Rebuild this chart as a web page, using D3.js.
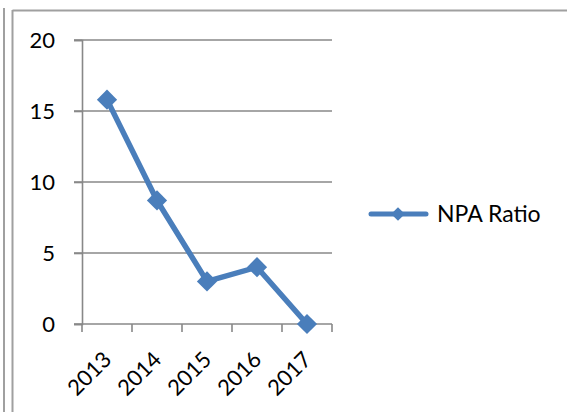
<!DOCTYPE html>
<html>
<head>
<meta charset="utf-8">
<script src="https://cdn.jsdelivr.net/npm/d3@7"></script>
<style>
  html, body { margin: 0; padding: 0; background: #fff; }
  svg { display: block; }
  text { font-family: Lato, "Open Sans", sans-serif; fill: #000; }
</style>
</head>
<body>
<svg id="chart" width="567" height="412"></svg>
<script>
// NPA ratio by year
const years = ["2013", "2014", "2015", "2016", "2017"];
const npaRatio = [15.8, 8.7, 3.0, 4.0, 0];
const yTicks = [0, 5, 10, 15, 20];
const seriesName = "NPA Ratio";

const svg = d3.select("#chart");
const W = 567, H = 412;
const gridColor = "#888888";
const lineColor = "#4A7EBB";

// frame lines around the chart object
const frame = svg.append("g").attr("fill", "none").attr("stroke", "#a0a0a0").attr("stroke-width", 2);
frame.append("line").attr("x1", 4).attr("x2", 4).attr("y1", 8).attr("y2", H);
frame.append("line").attr("x1", 12.5).attr("x2", 12.5).attr("y1", 10).attr("y2", H);
frame.append("line").attr("x1", 12.5).attr("x2", W).attr("y1", 10.5).attr("y2", 10.5);

// plot area
const plot = { left: 82, right: 332, top: 40, bottom: 324 };

const x = d3.scaleBand().domain(years).range([plot.left, plot.right]).padding(0);
const y = d3.scaleLinear().domain([0, 20]).range([plot.bottom, plot.top]);

// horizontal gridlines
svg.append("g")
  .selectAll("line")
  .data(yTicks.filter(d => d > 0))
  .join("line")
  .attr("x1", plot.left - 8).attr("x2", plot.right)
  .attr("y1", d => y(d)).attr("y2", d => y(d))
  .attr("stroke", gridColor).attr("stroke-width", 1.6);

// y axis
const yAxis = svg.append("g")
  .attr("transform", `translate(${plot.left},0)`)
  .call(d3.axisLeft(y).tickValues(yTicks).tickSize(8).tickPadding(19).tickFormat(d3.format("d")));
yAxis.select(".domain").attr("stroke", gridColor).attr("stroke-width", 1.6);
yAxis.selectAll(".tick line").attr("stroke", gridColor).attr("stroke-width", 1.6);
yAxis.selectAll(".tick text").style("font-size", "22px").attr("fill", "#000").attr("dy", "0.36em");

// x axis with ticks between categories
const xAxisG = svg.append("g").attr("transform", `translate(0,${plot.bottom})`);
xAxisG.append("line")
  .attr("x1", plot.left - 8).attr("x2", plot.right)
  .attr("y1", 0).attr("y2", 0)
  .attr("stroke", gridColor).attr("stroke-width", 1.6);
const boundaries = years.map(d => x(d)).concat([x(years[years.length - 1]) + x.bandwidth()]);
xAxisG.selectAll("line.tk")
  .data(boundaries)
  .join("line").attr("class", "tk")
  .attr("x1", d => d).attr("x2", d => d)
  .attr("y1", 0).attr("y2", 8)
  .attr("stroke", gridColor).attr("stroke-width", 1.6);
xAxisG.selectAll("text")
  .data(years)
  .join("text")
  .attr("transform", d => `translate(${x(d) + x.bandwidth() / 2 - 5},${26}) rotate(-45)`)
  .attr("text-anchor", "end")
  .attr("dy", "0.7em")
  .style("font-size", "22px")
  .text(d => d);

// series line
const cx = d => x(d) + x.bandwidth() / 2;
const pts = years.map((d, i) => [cx(d), y(npaRatio[i])]);
svg.append("path")
  .datum(pts)
  .attr("d", d3.line())
  .attr("fill", "none")
  .attr("stroke", lineColor)
  .attr("stroke-width", 5.5)
  .attr("stroke-linejoin", "round");

// diamond markers
const diamond = d3.symbol().type(d3.symbolDiamond2).size(260);
svg.append("g")
  .selectAll("path")
  .data(pts)
  .join("path")
  .attr("transform", d => `translate(${d[0]},${d[1]})`)
  .attr("d", diamond)
  .attr("fill", lineColor);

// legend
const lg = svg.append("g").attr("transform", "translate(370,214)");
lg.append("line")
  .attr("x1", 1).attr("x2", 56).attr("y1", 0).attr("y2", 0)
  .attr("stroke", lineColor).attr("stroke-width", 5).attr("stroke-linecap", "round");
lg.append("path")
  .attr("transform", "translate(28,0)")
  .attr("d", d3.symbol().type(d3.symbolDiamond2).size(120))
  .attr("fill", lineColor);
lg.append("text")
  .attr("x", 67).attr("y", 0).attr("dy", "0.36em")
  .style("font-size", "23px")
  .text(seriesName);
</script>
</body>
</html>
